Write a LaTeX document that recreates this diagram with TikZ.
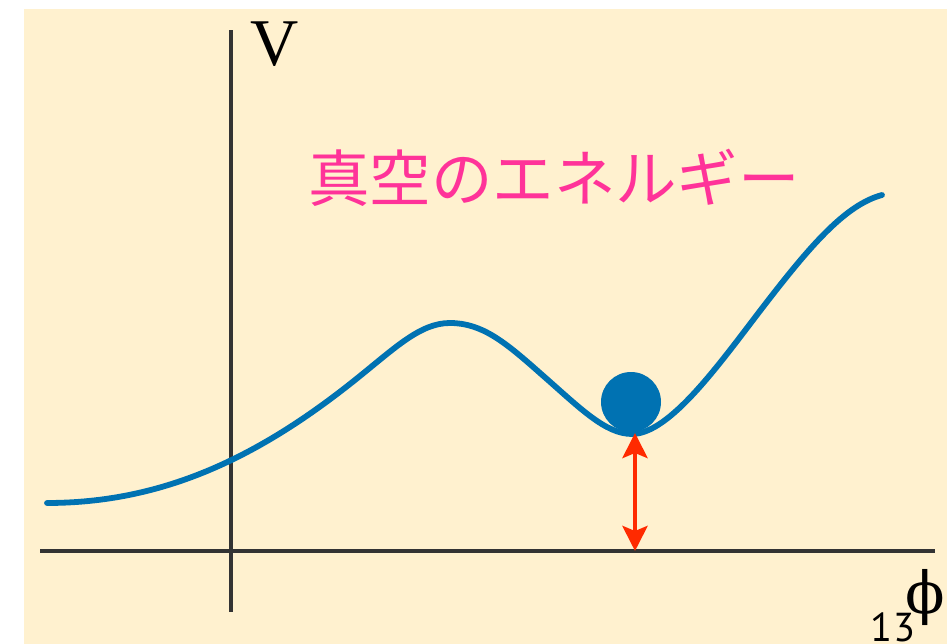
\documentclass[tikz,border=0pt]{standalone}
\usepackage{fontspec}
\setmainfont{Liberation Serif}
\newfontfamily\jpfont{Noto Sans CJK JP}
\newfontfamily\pgfont{PT Sans}
\newfontfamily\grfont{DejaVu Serif}
\usetikzlibrary{arrows.meta}
\definecolor{paper}{HTML}{FFF1CF}
\definecolor{curveblue}{HTML}{0072B2}
\definecolor{gapred}{HTML}{FF2A00}
\definecolor{labelpink}{HTML}{FF3399}
\definecolor{axisgray}{HTML}{333333}

\begin{document}
\begin{tikzpicture}[
  x=0.02cm, y=-0.02cm,
  axis/.style={draw=axisgray, line width=1.8pt},
  pot/.style={draw=curveblue, line width=3.3pt, line cap=round},
  gap/.style={{Stealth[length=5mm,width=5mm,inset=1mm]}-{Stealth[length=5mm,width=5mm,inset=1mm]},
              draw=gapred, line width=2.6pt}
]
  \useasboundingbox (0,0) rectangle (947,644);
  \fill[paper] (24,9) rectangle (947,644);

  % axes
  \coordinate (vtop) at (231,30);
  \coordinate (vbot) at (231,612);
  \coordinate (hleft) at (40,551);
  \coordinate (hright) at (935,551);
  \draw[axis] (vbot) -- (vtop);
  \draw[axis] (hleft) -- (hright);

  \node[font=\fontsize{38}{40}\selectfont, inner sep=0pt] (vlab) at (275,44) {V};
  \node[font=\grfont\fontsize{33}{36}\selectfont, inner sep=0pt] (philab) at (925,598) {ϕ};
  \node[font=\pgfont\fontsize{23}{26}\selectfont, inner sep=0pt, anchor=north] (pg) at (893,612) {13};

  % potential
  \draw[pot] (47,503) .. controls (160,503) and (255,460) .. (355,380)
    .. controls (395,348) and (420,323) .. (450,323)
    .. controls (482,323) and (505,342) .. (540,373)
    .. controls (580,408) and (605,434) .. (632,434)
    .. controls (670,434) and (720,363) .. (763,307)
    .. controls (810,246) and (845,205) .. (882,195);

  \node[circle, fill=curveblue, inner sep=0pt, minimum size=1.2cm] (ball) at (631,402) {};

  \coordinate (vac) at (635,433);
  \coordinate (zero) at (635,551);
  \draw[gap] (zero) -- (vac);

  \node[text=labelpink, font=\jpfont\fontsize{35}{37}\selectfont, inner sep=0pt] (title) at (554,178) {真空のエネルギー};
\end{tikzpicture}
\end{document}
